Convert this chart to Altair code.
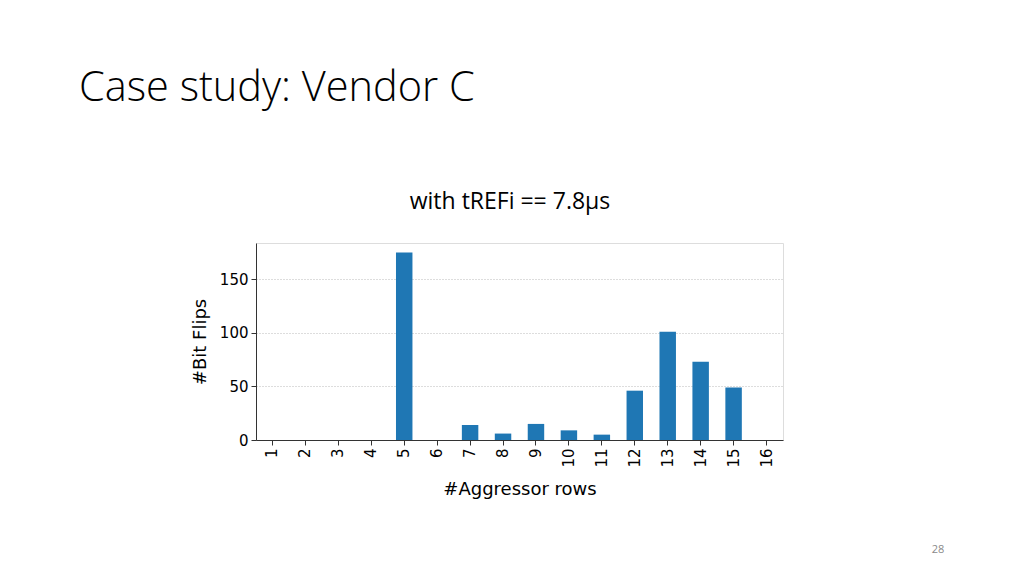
import altair as alt
import pandas as pd

rows = [str(i) for i in range(1, 17)]
flips = [0, 0, 0, 0, 175, 0, 14, 6, 15, 9, 5, 46, 101, 73, 49, 0]

slide_title = "Case study: Vendor C"
chart_title = "with tREFi == 7.8µs"
page_no = "28"
y_ticks = [0, 50, 100, 150]

df = pd.DataFrame({"rows": rows, "flips": flips})

W, H = 527, 197

bars = alt.Chart(df).mark_bar(color="#1f77b4").encode(
    x=alt.X("rows:N", sort=rows,
            scale=alt.Scale(paddingInner=0.5, paddingOuter=0.25),
            axis=alt.Axis(title="#Aggressor rows", labelAngle=270, labelFontSize=15,
                          titleFontSize=18, titlePadding=13, tickSize=5,
                          labelPadding=3, domainColor="#333", tickColor="#333",
                          labelColor="#000", titleColor="#000", titleFontWeight="normal",
                          labelFont="DejaVu Sans", titleFont="DejaVu Sans", grid=False)),
    y=alt.Y("flips:Q", scale=alt.Scale(domain=[0, 183.75], nice=False, zero=True),
            axis=alt.Axis(title="#Bit Flips", values=y_ticks, labelFontSize=15,
                          titleFontSize=18, titlePadding=10, tickSize=5, labelPadding=3,
                          domainColor="#333", tickColor="#333", labelColor="#000",
                          titleColor="#000", titleFontWeight="normal",
                          labelFont="DejaVu Sans", titleFont="DejaVu Sans",
                          grid=True, gridColor="#a8a8a8", gridDash=[1, 2], gridWidth=0.8)),
)

tdf = pd.DataFrame({"t": [slide_title]})
title_mark = alt.Chart(tdf).mark_text(
    align="left", baseline="alphabetic", font="Open Sans", fontSize=41.5,
    fontWeight=300, color="#000"
).encode(text="t:N", x=alt.value(-177), y=alt.value(-142))

sdf = pd.DataFrame({"t": [chart_title]})
sub_mark = alt.Chart(sdf).mark_text(
    align="center", baseline="alphabetic", font="Open Sans", fontSize=23, color="#000"
).encode(text="t:N", x=alt.value(254), y=alt.value(-34))

pdf = pd.DataFrame({"t": [page_no]})
page_mark = alt.Chart(pdf).mark_text(
    align="center", baseline="alphabetic", font="Open Sans", fontSize=11, color="#8a8a8a"
).encode(text="t:N", x=alt.value(682), y=alt.value(310))

chart = alt.layer(bars, title_mark, sub_mark, page_mark).properties(
    width=W, height=H,
    autosize=alt.AutoSizeParams(type="none"),
    padding={"left": 248, "top": 235, "right": 230, "bottom": 125},
).configure_view(stroke="#333", strokeWidth=1).configure(background="white")

chart.save("out.html", embed_options={"renderer": "svg", "actions": False})
